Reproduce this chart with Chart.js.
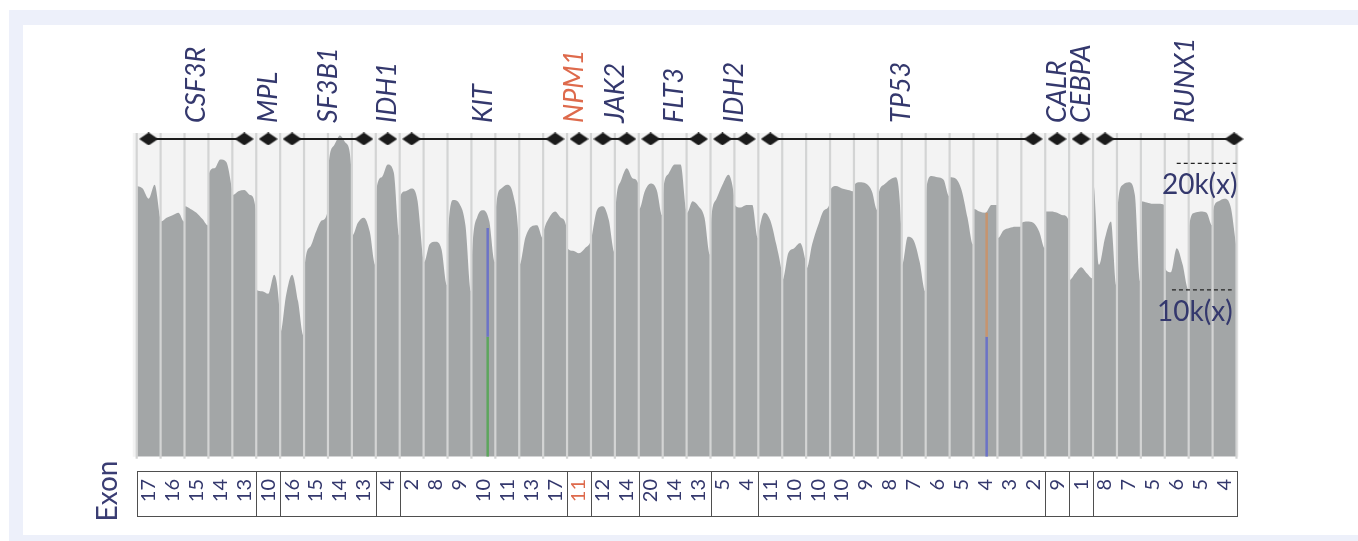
<!DOCTYPE html>
<html>
<head>
<meta charset="utf-8">
<script src="https://cdn.jsdelivr.net/npm/chart.js@4/dist/chart.umd.min.js"></script>
<style>
  html, body { margin:0; padding:0; background:#fff; width:1358px; height:541px; overflow:hidden; }
  #frame { position:absolute; left:9px; top:10px; width:1349px; height:531px; background:#edf0fa; }
  #panel { position:absolute; left:23px; top:25px; width:1335px; height:510px; background:#fff; }
  #c { position:absolute; left:0; top:0; }
</style>
</head>
<body>
<div id="frame"></div>
<div id="panel"></div>
<canvas id="c" width="1358" height="541"></canvas>
<script>
// ---------- data ----------
const genes = ['CSF3R','MPL','SF3B1','IDH1','KIT','NPM1','JAK2','FLT3','IDH2','TP53','CALR','CEBPA','RUNX1'];
const exons = [
  [17,16,15,14,13],
  [10],
  [16,15,14,13],
  [4],
  [2,8,9,10,11,13,17],
  [11],
  [12,14],
  [20,14,13],
  [5,4],
  [11,10,10,10,9,8,7,6,5,4,3,2],
  [9],
  [1],
  [8,7,5,6,5,4]
];
const highlightGene = 'NPM1';
// sampling positions inside each exon column (fraction of the column)
const samplePos = [0.02, 0.25, 0.5, 0.75, 0.98];
// read coverage per exon column, in thousands of reads (k)
const coverage = [
  [18.2,18.0,17.2,18.3,15.7],
  [15.4,15.7,15.9,16.1,15.4],
  [16.6,16.4,16.1,15.6,15.1],
  [19.2,19.6,20.3,20.1,18.0],
  [17.5,17.8,17.9,17.5,16.4],
  [10.0,9.9,9.7,11.2,8.3],
  [6.7,9.6,11.2,9.1,6.4],
  [11.7,13.4,14.6,15.5,16.2],
  [19.6,21.4,22.2,21.6,19.6],
  [14.3,15.3,15.7,14.6,12.0],
  [17.8,18.9,19.9,19.3,14.3],
  [17.4,17.8,18.0,17.0,12.5],
  [12.2,13.6,13.8,13.2,10.4],
  [14.3,17.1,16.8,15.1,9.9],
  [12.5,15.8,16.3,15.4,12.2],
  [16.4,18.0,18.3,17.5,14.1],
  [12.0,14.1,15.0,15.1,14.1],
  [14.6,15.7,16.2,15.7,14.9],
  [13.3,13.1,12.9,13.3,13.8],
  [14.1,16.3,16.6,15.5,13.0],
  [16.2,18.6,19.6,18.8,18.4],
  [16.4,17.8,18.4,17.9,15.9],
  [17.8,19.2,19.9,19.9,16.3],
  [16.1,17.0,16.6,15.7,12.8],
  [15.3,17.2,18.3,19.1,17.5],
  [16.7,16.5,16.7,16.7,14.1],
  [14.6,16.1,15.5,13.6,11.4],
  [10.8,12.9,13.3,13.7,12.2],
  [11.7,13.6,15.1,16.3,16.8],
  [17.9,18.2,18.0,17.9,17.8],
  [18.3,18.5,18.4,17.8,16.3],
  [17.5,18.3,18.7,18.9,14.9],
  [12.0,14.2,13.9,12.2,9.9],
  [17.9,19.0,18.9,18.7,17.4],
  [18.9,18.8,17.9,15.7,13.6],
  [16.4,16.2,16.1,16.7,16.7],
  [14.1,14.7,14.9,15.0,15.0],
  [15.3,15.4,15.3,14.6,13.3],
  [16.2,16.2,16.1,15.9,15.5],
  [10.8,11.3,11.8,11.3,10.9],
  [18.3,12.0,14.1,15.4,10.4],
  [16.2,18.3,18.5,17.5,10.7],
  [17.0,16.9,16.8,16.8,16.7],
  [11.7,11.4,13.3,12.0,10.1],
  [15.1,16.1,16.2,16.1,15.1],
  [16.3,17.0,17.2,16.6,13.6]
];
// variant allele bars (column position, total depth k, split point k)
const variantGene  = ['KIT','TP53'];
const variantPos   = [14.68, 35.55];
const variantDepth = [14.9, 16.1];
const variantSplit = [6.3, 6.3];
// reference depth levels
const refLevels = [20, 10];
const refLabels = ['20k(x)', '10k(x)'];

// ---------- layout / style constants ----------
const Y_MIN = -3.16, Y_MAX = 22.39;
const TRACK_Y = 21.92;
const NAVY = '#34386d';
const ORANGE = '#de6a4c';
const variantColors = [['#6b73c7','#5da65d'], ['#c7946e','#6b73c7']];
const refLineX = [[43.5, 46.0], [43.3, 45.8]];
const labelShift = { NPM1: -0.2, RUNX1: 0.85 };
const lastEndShift = { RUNX1: 0.4 };

// ---------- derived ----------
const nCols = exons.reduce((s, e) => s + e.length, 0);
const geneStart = [];
{ let c = 0; exons.forEach(e => { geneStart.push(c); c += e.length; }); }

const covPoints = [];
coverage.forEach((vals, col) => vals.forEach((v, i) => covPoints.push({ x: col + samplePos[i], y: v })));

function diamond(w, h, color) {
  const cv = document.createElement('canvas');
  cv.width = w; cv.height = h;
  const g = cv.getContext('2d');
  g.fillStyle = color;
  g.beginPath();
  g.moveTo(w / 2, 0); g.lineTo(w, h / 2); g.lineTo(w / 2, h); g.lineTo(0, h / 2);
  g.closePath(); g.fill();
  return cv;
}
const dia = diamond(19, 13, '#1b1b1b');

const datasets = [{
  label: 'coverage',
  data: covPoints,
  borderWidth: 0,
  backgroundColor: '#a3a6a7',
  fill: 'start',
  pointRadius: 0,
  cubicInterpolationMode: 'monotone',
  order: 99
}];

genes.forEach((g, gi) => {
  const s = geneStart[gi] + 0.5;
  const e = geneStart[gi] + exons[gi].length - 0.5 + (lastEndShift[g] || 0);
  const pts = exons[gi].length > 1 ? [{ x: s, y: TRACK_Y }, { x: e, y: TRACK_Y }] : [{ x: s, y: TRACK_Y }];
  datasets.push({
    label: g, data: pts, borderColor: '#1b1b1b', borderWidth: 2,
    pointStyle: dia, pointRadius: 9, clip: false, order: 1
  });
});

variantPos.forEach((p, i) => {
  datasets.push({
    label: variantGene[i] + ' alt', data: [{ x: p, y: variantDepth[i] }, { x: p, y: variantSplit[i] }],
    borderColor: variantColors[i][0], borderWidth: 2.5, pointRadius: 0, order: 2
  });
  datasets.push({
    label: variantGene[i] + ' ref', data: [{ x: p, y: variantSplit[i] }, { x: p, y: Y_MIN }],
    borderColor: variantColors[i][1], borderWidth: 2.5, pointRadius: 0, order: 2
  });
});

refLevels.forEach((lv, i) => {
  datasets.push({
    label: refLabels[i], data: [{ x: refLineX[i][0], y: lv }, { x: refLineX[i][1], y: lv }],
    borderColor: '#222', borderWidth: 1.3, borderDash: [4, 3], pointRadius: 0, clip: false, order: 1
  });
});

const overlay = {
  id: 'overlay',
  beforeDatasetsDraw(chart) {
    const { ctx, chartArea: a } = chart;
    ctx.save();
    ctx.fillStyle = '#f3f3f3';
    ctx.fillRect(a.left - 4, a.top, a.right - a.left + 6, a.bottom - a.top);
    ctx.restore();
  },
  afterDatasetDraw(chart, args) {
    if (args.index !== 0) return;
    const { ctx, chartArea: a } = chart;
    const xs = chart.scales.x;
    ctx.save();
    ctx.strokeStyle = '#d3d4d4';
    ctx.lineWidth = 2.2;
    for (let k = 0; k <= nCols; k++) {
      const x = xs.getPixelForValue(k);
      ctx.beginPath(); ctx.moveTo(x, a.top); ctx.lineTo(x, a.bottom + 2); ctx.stroke();
    }
    ctx.restore();
  },
  afterDraw(chart) {
    const { ctx, chartArea: a } = chart;
    const xs = chart.scales.x, ys = chart.scales.y;
    ctx.save();
    // gene labels
    ctx.font = 'italic 27px Lato';
    ctx.textBaseline = 'middle';
    ctx.textAlign = 'left';
    genes.forEach((g, gi) => {
      const mid = geneStart[gi] + exons[gi].length / 2 + (labelShift[g] || 0);
      ctx.save();
      ctx.translate(xs.getPixelForValue(mid), a.top - 10);
      ctx.rotate(-Math.PI / 2);
      ctx.fillStyle = g === highlightGene ? ORANGE : NAVY;
      ctx.fillText(g, 0, 0);
      ctx.restore();
    });
    // reference labels
    ctx.font = '28px Lato';
    ctx.fillStyle = NAVY;
    ctx.textAlign = 'right';
    refLevels.forEach((lv, i) => {
      ctx.fillText(refLabels[i], xs.getPixelForValue(refLineX[i][1]) + 1, ys.getPixelForValue(lv) + 22);
    });
    // exon table
    const tTop = 471, tBot = 516;
    const L = xs.getPixelForValue(0), R = xs.getPixelForValue(nCols);
    ctx.strokeStyle = '#4f4f4f';
    ctx.lineWidth = 1;
    ctx.strokeRect(Math.round(L) + 0.5, tTop + 0.5, Math.round(R - L), tBot - tTop);
    geneStart.forEach((s, gi) => {
      if (gi === 0) return;
      const x = Math.round(xs.getPixelForValue(s)) + 0.5;
      ctx.beginPath(); ctx.moveTo(x, tTop); ctx.lineTo(x, tBot); ctx.stroke();
    });
    ctx.font = '20px Lato';
    ctx.textAlign = 'right';
    ctx.textBaseline = 'middle';
    genes.forEach((g, gi) => {
      exons[gi].forEach((ex, j) => {
        const col = geneStart[gi] + j + 0.5;
        ctx.save();
        ctx.translate(xs.getPixelForValue(col), tTop + 8);
        ctx.rotate(-Math.PI / 2);
        ctx.fillStyle = g === highlightGene ? ORANGE : NAVY;
        ctx.fillText(String(ex), 0, 0);
        ctx.restore();
      });
    });
    // axis title
    ctx.save();
    ctx.translate(108, 491);
    ctx.rotate(-Math.PI / 2);
    ctx.font = '28px Lato';
    ctx.textAlign = 'center';
    ctx.fillStyle = '#3a3d73';
    ctx.fillText('Exon', 0, 0);
    ctx.restore();
    ctx.restore();
  }
};

new Chart(document.getElementById('c'), {
  type: 'line',
  data: { datasets },
  options: {
    responsive: false,
    devicePixelRatio: 1,
    animation: false,
    layout: { padding: { left: 136.7, right: 121.5, top: 133, bottom: 84.3 } },
    plugins: { legend: { display: false }, tooltip: { enabled: false } },
    scales: {
      x: { type: 'linear', min: 0, max: nCols, display: false },
      y: { type: 'linear', min: Y_MIN, max: Y_MAX, display: false }
    }
  },
  plugins: [overlay]
});
</script>
</body>
</html>
